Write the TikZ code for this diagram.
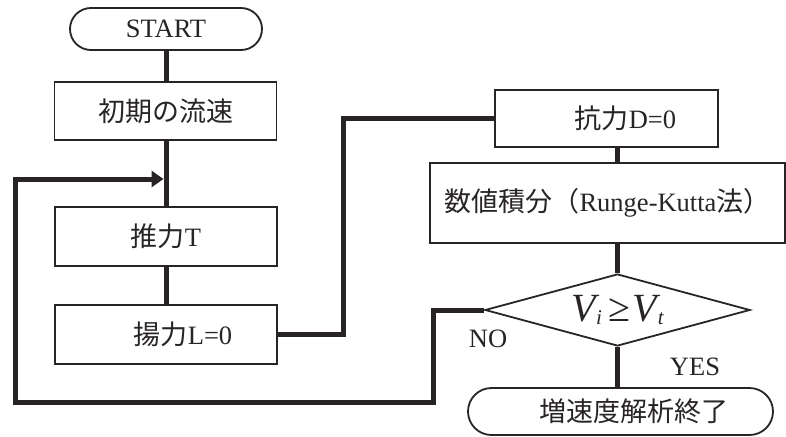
\documentclass[tikz,border=0pt]{standalone}
\usepackage{fontspec}
\setmainfont{Liberation Serif}
\newfontfamily\jp{Noto Sans CJK JP}
\usetikzlibrary{shapes.misc,shapes.geometric,arrows.meta}
\definecolor{ink}{RGB}{40,36,38}
\newcommand\jtxt[1]{{\jp\fontsize{27}{30}\selectfont #1}}
\newcommand\subtxt[1]{\raisebox{-3pt}{\fontsize{21}{21}\selectfont\itshape #1}}
\begin{document}
\begin{tikzpicture}[x=1pt,y=-1pt,
  every node/.style={text=ink, font=\fontsize{26.5}{30}\selectfont},
  procbox/.style={draw=ink, line width=1.8pt, rectangle, inner sep=0pt, minimum width=222pt, minimum height=58pt},
  termbox/.style={draw=ink, line width=1.8pt, rounded rectangle, inner sep=0pt},
  decbox/.style={draw=ink, line width=1.8pt, diamond, inner sep=0pt, aspect=3.68},
  flow/.style={draw=ink, line width=5pt, line join=miter},
  lbl/.style={inner sep=0pt}
]
\useasboundingbox (0,0) rectangle (786,436);
\fill[white] (0,0) rectangle (786,436);

\node[termbox, minimum width=192pt, minimum height=42pt] (start) at (166,29) {START};
\node[procbox] (b1) at (165.5,111) {\jtxt{初期の流速}};
\node[procbox, minimum height=59pt] (b2) at (166,236.5) {\jtxt{推力}T};
\node[procbox, minimum height=59pt] (b3) at (166,334.5) {\hspace*{34pt}\jtxt{揚力}L=0};
\node[procbox, minimum width=223pt, minimum height=57pt] (b4) at (606.5,118.5) {\hspace*{38pt}\jtxt{抗力}D=0};
\node[procbox, minimum width=355pt, minimum height=80pt] (b5) at (607.5,203) {\jtxt{数値積分（}Runge-Kutta\jtxt{法）}};
\node[decbox, minimum width=265pt, minimum height=72pt] (d) at (617.5,310)
  {{\fontsize{40}{40}\selectfont\itshape V\kern0.5pt\subtxt{i}\kern6pt\upshape ≥\kern3pt\itshape V\kern0.5pt\subtxt{t}}};
\node[termbox, minimum width=305pt, minimum height=47pt] (end) at (620.5,411.5) {\hspace*{26pt}\jtxt{増速度解析終了}};

\node[lbl] (no) at (488,339) {NO};
\node[lbl] (yes) at (695,367) {YES};

\coordinate (merge) at (163.5,179);
\coordinate (c1) at (433,402);
\coordinate (c2) at (15,179);
\coordinate (c3) at (343,0);

\draw[flow] (start.south -| b2.north) -- (b1.north -| b2.north);
\draw[flow] (b1.south -| b2.north) -- (b2.north);
\draw[flow] (b2.south) -- (b3.north);
\draw[flow, -{Triangle[length=12pt,width=16pt]}] (d.west) -| (c1) -| (c2) -- (merge);
\draw[flow] (b3.east) -| (c3 |- b4.west) -- (b4.west);
\draw[flow] (d.north |- b4.south) -- (d.north |- b5.north);
\draw[flow] (d.north |- b5.south) -- (d.north);
\draw[flow] (d.south) -- (d.south |- end.north);
\end{tikzpicture}
\end{document}
